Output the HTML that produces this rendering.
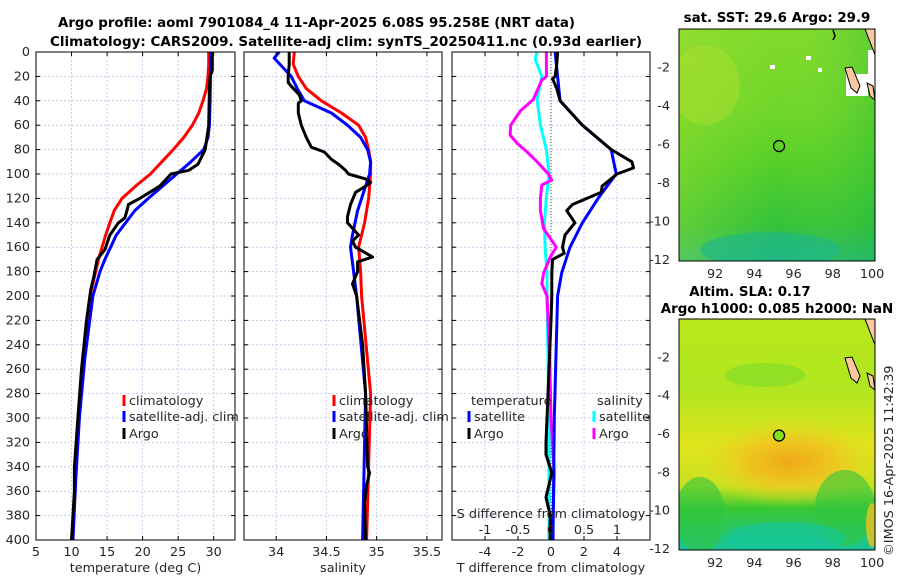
<!DOCTYPE html>
<html><head><meta charset="utf-8"><style>
html,body{margin:0;padding:0;background:#fff}
svg{display:block;font-family:"DejaVu Sans","Liberation Sans",sans-serif}
.t{font-size:12.8px;fill:#262626}
.b{font-size:13.4px;font-weight:bold;fill:#000}
</style></head><body>
<svg id="fig" width="900" height="580" viewBox="0 0 900 580" xmlns="http://www.w3.org/2000/svg">
<defs>
<linearGradient id="sstg" x1="0" y1="0" x2="0" y2="1">
<stop offset="0" stop-color="#80da2c"/><stop offset="0.35" stop-color="#70d62a"/><stop offset="0.6" stop-color="#52ce2a"/><stop offset="0.85" stop-color="#32c23c"/><stop offset="1" stop-color="#22b87a"/></linearGradient>
<linearGradient id="sstr" x1="0" y1="0" x2="1" y2="0">
<stop offset="0" stop-color="#a8e030" stop-opacity="0.4"/><stop offset="0.5" stop-color="#a0e030" stop-opacity="0"/><stop offset="1" stop-color="#20b840" stop-opacity="0.35"/></linearGradient>
<linearGradient id="slag" x1="0" y1="0" x2="0" y2="1">
<stop offset="0" stop-color="#b8e81a"/><stop offset="0.3" stop-color="#b0e620"/><stop offset="0.55" stop-color="#e0e41c"/><stop offset="0.72" stop-color="#c8e220"/><stop offset="0.82" stop-color="#38c832"/><stop offset="1" stop-color="#18c49a"/></linearGradient>
<radialGradient id="slao" cx="0.5" cy="0.5" r="0.5">
<stop offset="0" stop-color="#f0a818"/><stop offset="0.5" stop-color="#f0c420" stop-opacity="0.85"/><stop offset="1" stop-color="#e0e020" stop-opacity="0"/></radialGradient>
<clipPath id="c1"><rect x="36" y="52" width="199" height="488"/></clipPath>
<clipPath id="c2"><rect x="244" y="52" width="198" height="488"/></clipPath>
<clipPath id="c3"><rect x="452" y="52" width="198" height="488"/></clipPath>
<clipPath id="cm1"><rect x="679" y="29" width="196" height="232"/></clipPath>
<clipPath id="cm2"><rect x="679" y="319" width="196" height="231"/></clipPath>
</defs>
<text class="b" x="58" y="27" textLength="517" lengthAdjust="spacingAndGlyphs">Argo profile: aoml 7901084_4 11-Apr-2025 6.08S 95.258E (NRT data)</text>
<text class="b" x="50" y="46" textLength="592" lengthAdjust="spacingAndGlyphs">Climatology: CARS2009. Satellite-adj clim: synTS_20250411.nc (0.93d earlier)</text>
<g id="grids"></g>
<g id="series"></g>
<g id="frames"></g>
<g id="maps">
 <g>
  <rect x="679" y="29" width="196" height="232" fill="url(#sstg)"/>
  <rect x="679" y="29" width="196" height="232" fill="url(#sstr)"/>
  <g clip-path="url(#cm1)">
   <ellipse cx="705" cy="85" rx="35" ry="40" fill="#b0e030" opacity="0.45"/>
   <ellipse cx="770" cy="250" rx="70" ry="18" fill="#1cb88a" opacity="0.6"/>
   <rect x="846" y="74" width="22" height="22" fill="#fff"/><rect x="858" y="86" width="6" height="10" fill="#fff"/>
   <rect x="868" y="50" width="7" height="40" fill="#fff"/>
   <rect x="770" y="65" width="5" height="4" fill="#fff"/><rect x="806" y="56" width="5" height="4" fill="#fff"/><rect x="818" y="68" width="4" height="4" fill="#fff"/>
   <polygon points="865,29 875,29 875,55 870,42" fill="#fac8a0" stroke="#000" stroke-width="1"/>
   <polygon points="845,68 852,67 860,86 857,93 851,88" fill="#fac8a0" stroke="#000" stroke-width="1"/>
   <polygon points="867,83 873,86 875,100 870,96" fill="#fac8a0" stroke="#000" stroke-width="1"/>
   <path d="M833,30 l2,6 l-2,4" stroke="#000" fill="none" stroke-width="1.5"/>
  </g>
  <rect x="679" y="29" width="196" height="232" fill="none" stroke="#000"/>
  <circle id="dot1" r="5.5" fill="none" stroke="#000" stroke-width="1.3"/>
 </g>
 <g>
  <rect x="679" y="319" width="196" height="231" fill="url(#slag)"/>
  <g clip-path="url(#cm2)">
   <ellipse cx="790" cy="462" rx="95" ry="45" fill="url(#slao)"/>
   <ellipse cx="765" cy="375" rx="40" ry="12" fill="#78d82a" opacity="0.55"/>
   <ellipse cx="700" cy="515" rx="25" ry="38" fill="#30c440" opacity="0.6"/>
   <ellipse cx="845" cy="508" rx="30" ry="38" fill="#30c440" opacity="0.6"/>
   <ellipse cx="785" cy="538" rx="60" ry="16" fill="#14c8a0" opacity="0.6"/>
   <ellipse cx="872" cy="525" rx="6" ry="22" fill="#f0c020" opacity="0.8"/>
   <polygon points="865,319 875,319 875,345 870,332" fill="#fac8a0" stroke="#000" stroke-width="1"/>
   <polygon points="845,358 852,357 860,376 857,383 851,378" fill="#fac8a0" stroke="#000" stroke-width="1"/>
   <polygon points="867,373 873,376 875,390 870,386" fill="#fac8a0" stroke="#000" stroke-width="1"/>
  </g>
  <rect x="679" y="319" width="196" height="231" fill="none" stroke="#000"/>
  <circle id="dot2" r="5.5" fill="#8ae020" stroke="#000" stroke-width="1.3"/>
 </g>
 <text class="b" x="777" y="22" text-anchor="middle">sat. SST: 29.6 Argo: 29.9</text>
 <text class="b" x="750" y="296" text-anchor="middle">Altim. SLA: 0.17</text>
 <text class="b" x="777" y="313" text-anchor="middle">Argo h1000: 0.085 h2000: NaN</text>
 <text class="t" transform="translate(893,556) rotate(-90)">©IMOS 16-Apr-2025 11:42:39</text>
</g>
<g id="legends"></g>
</svg>
<script>
const NS='http://www.w3.org/2000/svg';
const depthTicks=[0,20,40,60,80,100,120,140,160,180,200,220,240,260,280,300,320,340,360,380,400];
const tempTicks=[5,10,15,20,25,30];
const salTicks=[34,34.5,35,35.5];
const diffTicks=[-4,-2,0,2,4];
const sdiffTicks=[-1,-0.5,0,0.5,1];
// temperature profiles
const tClimDepth=[0,10,20,30,40,50,60,70,80,90,100,110,120,130,140,150,160,170,180,200,250,300,350,400];
const tClim=[29.3,29.3,29.2,29.0,28.5,27.9,27.0,25.8,24.3,22.7,21.1,19.0,17.1,16.0,15.4,14.8,14.3,13.8,13.4,12.6,11.6,11.0,10.5,10.1];
const tSatDepth=[0,40,60,70,80,90,100,110,120,130,140,150,160,170,180,200,250,300,350,400];
const tSat=[29.6,29.5,29.4,29.2,28.6,26.8,24.8,22.8,20.8,18.9,17.6,16.3,15.5,14.7,14.0,13.0,11.9,11.1,10.6,10.2];
const tArgoDepth=[0,15,20,30,60,80,92,97,100,110,120,125,130,136,140,150,162,170,185,195,220,260,300,340,360,400];
const tArgo=[29.8,29.8,29.5,29.4,29.3,28.8,27.8,26.5,24.0,22.4,19.6,18.0,17.8,17.5,16.6,15.4,14.7,13.6,13.1,12.7,12.1,11.4,10.9,10.4,10.4,10.0];
// salinity profiles
const sClimDepth=[0,10,20,30,40,50,60,70,80,90,100,120,140,160,180,200,280,400];
const sClim=[34.18,34.17,34.22,34.30,34.45,34.65,34.82,34.89,34.92,34.94,34.94,34.92,34.88,34.82,34.84,34.85,34.94,34.90];
const sSatDepth=[0,5,20,30,40,50,60,70,80,90,100,110,130,150,160,180,200,280,400];
const sSat=[34.03,33.98,34.15,34.21,34.28,34.55,34.71,34.84,34.91,34.94,34.93,34.89,34.81,34.76,34.74,34.77,34.80,34.89,34.86];
const sArgoDepth=[0,10,20,25,28,35,40,42,50,60,70,78,82,88,92,97,100,104,107,110,115,125,135,140,150,155,160,168,172,180,190,200,240,280,340,345,355,370,400];
const sArgo=[34.13,34.13,34.12,34.12,34.15,34.23,34.25,34.22,34.22,34.25,34.30,34.35,34.48,34.55,34.62,34.69,34.72,34.89,34.94,34.89,34.79,34.74,34.71,34.71,34.82,34.76,34.79,34.96,34.81,34.81,34.76,34.80,34.86,34.89,34.91,34.93,34.90,34.88,34.89];
// differences from climatology
const dTSatDepth=[0,40,60,80,100,119,140,160,181,200,300,400];
const dTSat=[0.25,0.55,1.9,3.65,3.95,2.9,1.9,1.15,0.65,0.4,0.2,0.12];
const dTArgoDepth=[0,10,20,22,30,40,60,80,90,95,100,110,115,125,130,140,150,160,165,170,180,200,220,320,330,345,365,380,400];
const dTArgo=[0.4,0.35,0.25,0.1,0.35,0.55,1.9,3.65,4.9,5.0,4.0,3.1,3.05,1.3,0.95,1.45,0.85,0.7,0.8,0.1,0.05,0.05,0.0,-0.3,-0.3,0.05,-0.3,-0.05,-0.05];
const dSSatDepth=[0,6,20,39,60,80,100,119,140,160,181,200,300,400];
const dSSat=[-0.21,-0.24,-0.14,-0.21,-0.16,-0.07,-0.03,-0.07,-0.1,-0.09,-0.06,-0.06,-0.03,-0.03];
const dSArgoDepth=[0,20,23,39,48,60,68,75,82,90,100,105,109,120,130,145,160,168,181,190,200,250,300,345,400];
const dSArgo=[-0.07,-0.07,-0.14,-0.27,-0.46,-0.61,-0.62,-0.51,-0.36,-0.21,-0.04,0.01,-0.14,-0.16,-0.16,-0.11,0.08,-0.01,-0.11,-0.14,-0.06,-0.02,0.0,0.05,0.02];
// map marker and tick labels
const argoLon=95.26, argoLat=-6.08;
const lonTicks=[92,94,96,98,100];
const latTicks=[-2,-4,-6,-8,-10,-12];

const Y0=52,Y1=540;
const yD=d=>Y0+(d/400)*(Y1-Y0);
const P1={x0:36,x1:235,lo:5,hi:33};
const P2={x0:244,x1:442,lo:33.68,hi:35.65};
const P3={x0:452,x1:650,lo:-6,hi:6};
const P3s={x0:452,x1:650,lo:-1.5,hi:1.5};
const xs=(P,v)=>P.x0+(v-P.lo)/(P.hi-P.lo)*(P.x1-P.x0);
const M1={x0:679,x1:875,y0:29,y1:261,lon0:90.16,lon1:100.15,lat0:0,lat1:-12.05};
const M2={x0:679,x1:875,y0:319,y1:550,lon0:90.16,lon1:100.15,lat0:0,lat1:-12.05};
const mx=(M,l)=>M.x0+(l-M.lon0)/(M.lon1-M.lon0)*(M.x1-M.x0);
const my=(M,l)=>M.y0+(l-M.lat0)/(M.lat1-M.lat0)*(M.y1-M.y0);

function mk(tag,attrs,parent){const e=document.createElementNS(NS,tag);for(const k in attrs)e.setAttribute(k,attrs[k]);parent.appendChild(e);return e;}
const grids=document.getElementById('grids'),series=document.getElementById('series'),frames=document.getElementById('frames'),legends=document.getElementById('legends');

function panel(P,xt,xlabel,name,showY){
  depthTicks.forEach(d=>{const y=yD(d);
    const g=mk('line',{x1:P.x0,x2:P.x1,y1:y,y2:y,stroke:'#b8c4e8','stroke-width':0.8,'stroke-dasharray':'2,2'},grids);
    
    
    mk('line',{x1:P.x0,x2:P.x0+4,y1:y,y2:y,stroke:'#000'},frames);
    mk('line',{x1:P.x1-4,x2:P.x1,y1:y,y2:y,stroke:'#000'},frames);
    if(showY){const t=mk('text',{x:P.x0-6,y:y+4,'text-anchor':'end',class:'t'},frames);t.textContent=d;
      
      }
  });
  xt.forEach(v=>{const x=xs(P,v);
    const g=mk('line',{x1:x,x2:x,y1:Y0,y2:Y1,stroke:'#b8c4e8','stroke-width':0.8,'stroke-dasharray':'2,2'},grids);
    
    
    mk('line',{x1:x,x2:x,y1:Y1,y2:Y1-4,stroke:'#000'},frames);
    mk('line',{x1:x,x2:x,y1:Y0,y2:Y0+4,stroke:'#000'},frames);
    const t=mk('text',{x:x,y:556,'text-anchor':'middle',class:'t'},frames);t.textContent=v;
    
    
  });
  const r=mk('rect',{x:P.x0,y:Y0,width:P.x1-P.x0,height:Y1-Y0,fill:'none',stroke:'#000'},frames);
  
  
  const t=mk('text',{x:(P.x0+P.x1)/2,y:572,'text-anchor':'middle',class:'t'},frames);t.textContent=xlabel;
  
  
}
panel(P1,tempTicks,'temperature (deg C)','temperature-panel',true);
panel(P2,salTicks,'salinity','salinity-panel',false);
panel(P3,diffTicks,'T difference from climatology','difference-panel',false);
const z=mk('line',{x1:xs(P3,0),x2:xs(P3,0),y1:Y0,y2:Y1,stroke:'#555','stroke-width':1,'stroke-dasharray':'1,2'},grids);



function line(P,depths,vals,color,clip,name){
  const pts=depths.map((d,i)=>xs(P,vals[i]).toFixed(1)+','+yD(d).toFixed(1)).join(' ');
  const e=mk('polyline',{points:pts,fill:'none',stroke:color,'stroke-width':3,'stroke-linejoin':'round','clip-path':'url(#'+clip+')'},series);
  
  
}
line(P1,tClimDepth,tClim,'#ff0000','c1','temperature-climatology-line');
line(P1,tSatDepth,tSat,'#0000ff','c1','temperature-satellite-line');
line(P1,tArgoDepth,tArgo,'#000000','c1','temperature-argo-line');
line(P2,sClimDepth,sClim,'#ff0000','c2','salinity-climatology-line');
line(P2,sSatDepth,sSat,'#0000ff','c2','salinity-satellite-line');
line(P2,sArgoDepth,sArgo,'#000000','c2','salinity-argo-line');
line(P3s,dSSatDepth,dSSat,'#00ffff','c3','salinity-satellite-difference-line');
line(P3s,dSArgoDepth,dSArgo,'#ff00ff','c3','salinity-argo-difference-line');
line(P3,dTSatDepth,dTSat,'#0000ff','c3','temperature-satellite-difference-line');
line(P3,dTArgoDepth,dTArgo,'#000000','c3','temperature-argo-difference-line');

{const t=mk('text',{x:551,y:518,'text-anchor':'middle',class:'t'},legends);t.textContent='S difference from climatology';
 
 
 sdiffTicks.forEach(v=>{const s=mk('text',{x:xs(P3s,v),y:534,'text-anchor':'middle',class:'t'},legends);s.textContent=v;
  
  });}

function legend(x,y,color,label,name){
  const m=mk('rect',{x:x-1.5,y:y-10,width:3,height:11,fill:color},legends);
  
  
  const t=mk('text',{x:x+5,y:y,class:'t'},legends);t.textContent=label;
  
  
}
legend(124,405,'#ff0000','climatology','legend-climatology');
legend(124,421,'#0000ff','satellite-adj. clim','legend-satellite');
legend(124,438,'#000','Argo','legend-argo');
legend(334,405,'#ff0000','climatology','salinity-legend-climatology');
legend(334,421,'#0000ff','satellite-adj. clim','salinity-legend-satellite');
legend(334,438,'#000','Argo','salinity-legend-argo');
{const t=mk('text',{x:471,y:405,class:'t'},legends);t.textContent='temperature';
 
 
 const s=mk('text',{x:597,y:405,class:'t'},legends);s.textContent='salinity';
 
 }
legend(469,421,'#0000ff','satellite','legend-temperature-satellite');
legend(469,438,'#000','Argo','legend-temperature-argo');
legend(594,421,'#00ffff','satellite','legend-salinity-satellite');
legend(594,438,'#ff00ff','Argo','legend-salinity-argo');

[M1,M2].forEach(M=>{
  lonTicks.forEach(l=>{const x=mx(M,l);
    mk('line',{x1:x,x2:x,y1:M.y1,y2:M.y1-3,stroke:'#000'},frames);
    const t=mk('text',{x:x,y:M.y1+17,'text-anchor':'middle',class:'t'},frames);t.textContent=l;
    
    });
  latTicks.forEach(l=>{const y=my(M,l);
    mk('line',{x1:M.x0,x2:M.x0+3,y1:y,y2:y,stroke:'#000'},frames);
    mk('line',{x1:M.x1,x2:M.x1-3,y1:y,y2:y,stroke:'#000'},frames);
    const t=mk('text',{x:M.x0-9,y:y+4,'text-anchor':'end',class:'t'},frames);t.textContent=l;
    
    });
});
const d1=document.getElementById('dot1');d1.setAttribute('cx',mx(M1,argoLon));d1.setAttribute('cy',my(M1,argoLat));


const d2=document.getElementById('dot2');d2.setAttribute('cx',mx(M2,argoLon));d2.setAttribute('cy',my(M2,argoLat));


</script>
</body></html>
